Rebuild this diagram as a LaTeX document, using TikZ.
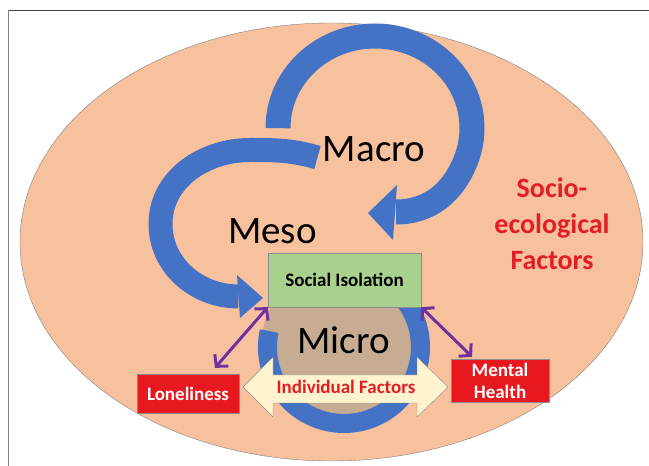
\documentclass[tikz,border=0pt]{standalone}
\usepackage{fontspec}
\setmainfont{Carlito}
\usepackage{tikz}
\usetikzlibrary{arrows.meta,calc}

\definecolor{peach}{RGB}{248,193,157}
\definecolor{bandblue}{RGB}{68,114,196}
\definecolor{microtan}{RGB}{199,171,146}
\definecolor{sigreen}{RGB}{169,209,142}
\definecolor{cream}{RGB}{255,243,208}
\definecolor{boxred}{RGB}{232,24,32}
\definecolor{textred}{RGB}{226,30,36}
\definecolor{linkpurple}{RGB}{112,48,160}
\definecolor{boxgray}{RGB}{140,140,140}

\begin{document}
\begin{tikzpicture}[x=1pt,y=1pt,
    band/.style={draw=bandblue,line width=25pt},
    factorbox/.style={draw=boxgray,fill=boxred,text=white,inner sep=0pt,align=center,
      font=\fontsize{19}{22}\selectfont\bfseries},
    link/.style={draw=linkpurple,line width=3pt,
      {Straight Barb[length=8pt,width=18pt]}-{Straight Barb[length=8pt,width=18pt]}},
    levellabel/.style={font=\fontsize{39}{44}\selectfont}]
    \useasboundingbox (0,0) rectangle (649,466);
    \fill[white] (0,0) rectangle (649,466);
    \draw[gray,line width=1.3pt] (8.7,0) -- (8.7,455.5);
    \draw[black!75,line width=1.3pt] (8.7,455.5) -- (649,455.5);
    \draw[draw=gray,fill=peach] (331.5,224) ellipse [x radius=311.5,y radius=219];
    % macro loop
    \draw[band] (278,343) -- (278,338) arc[start angle=180,end angle=-20,x radius=97,y radius=92]
        to[out=249,in=0] (396,254);
    \fill[bandblue] (397,281) -- (368,253) -- (393,226) -- cycle;
    % meso loop
    \draw[band,line width=24pt] (317.5,308.5) to[out=164,in=0] (250,316)
        to[out=180,in=90] (160.5,242) to[out=270,in=180] (238.5,169.5);
    \fill[bandblue] (237,191) -- (263,168) -- (240,148) -- cycle;
    % micro loop
    \node[circle,fill=microtan,minimum size=166pt,inner sep=0pt] (microdisc) at (344,119) {};
    \draw[bandblue,line width=19pt] (microdisc.center) ++(168:76.5)
        arc[start angle=168,end angle=405,radius=76.5];
    \node[draw=boxgray,fill=sigreen,minimum width=153pt,minimum height=54pt,
        font=\fontsize{19}{22}\selectfont\bfseries] (isolation) at (344.5,186) {Social Isolation};
    \draw[boxgray,fill=cream] (243,79) -- (273,109) -- (273,91) -- (417,91) -- (417,109)
        -- (448,79) -- (417,49) -- (417,63) -- (273,63) -- (273,49) -- cycle;
    \node[text=textred,font=\fontsize{19}{22}\selectfont\bfseries] (indiv) at (346,79) {Individual Factors};
    \node[factorbox,minimum width=102pt,minimum height=39pt] (lonely) at (188,72.5) {Loneliness};
    \node[factorbox,minimum width=98pt,minimum height=43pt] (mental) at (500,85.5) {Mental\\Health};
    \draw[link] (isolation.south west) -- ($(lonely.north)+(27,6)$);
    \draw[link] (isolation.south east) -- ($(mental.north)+(-28,2)$);
    \node[levellabel] (macro) at (374,317) {Macro};
    \node[levellabel] (meso) at (272.5,235) {Meso};
    \node[levellabel] (micro) at (343.5,126) {Micro};
    \node[text=textred,align=center,font=\fontsize{28}{36}\selectfont\bfseries] (socio) at (552,242)
        {Socio-\\ecological\\Factors};
\end{tikzpicture}
\end{document}
